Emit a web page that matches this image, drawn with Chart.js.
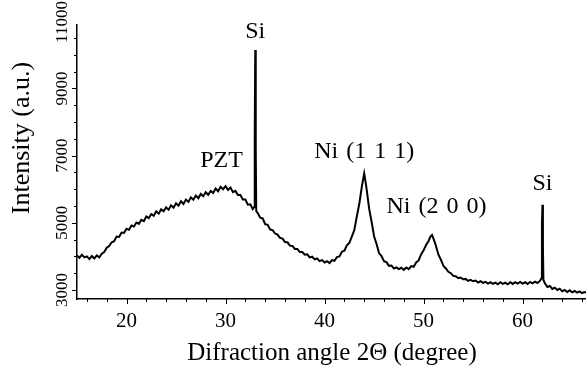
<!DOCTYPE html>
<html lang="en">
<head>
<meta charset="UTF-8">
<title>XRD pattern</title>
<script src="https://cdn.jsdelivr.net/npm/chart.js@4"></script>
<style>
  html, body { margin: 0; padding: 0; background: #fff; }
</style>
</head>
<body>
<canvas id="xrd" width="586" height="367"></canvas>
<script>
// 2-theta (deg) and intensity (a.u.)
const twoTheta = [
  15.00, 15.25, 15.50, 15.75, 16.00, 16.25, 16.50, 16.75, 17.00, 17.25, 17.50, 17.75,
  18.00, 18.25, 18.50, 18.75, 19.00, 19.25, 19.50, 19.75, 20.00, 20.25, 20.50, 20.75,
  21.00, 21.25, 21.50, 21.75, 22.00, 22.25, 22.50, 22.75, 23.00, 23.25, 23.50, 23.75,
  24.00, 24.25, 24.50, 24.75, 25.00, 25.25, 25.50, 25.75, 26.00, 26.25, 26.50, 26.75,
  27.00, 27.25, 27.50, 27.75, 28.00, 28.25, 28.50, 28.75, 29.00, 29.25, 29.50, 29.75,
  30.00, 30.25, 30.50, 30.75, 31.00, 31.25, 31.50, 31.75, 32.00, 32.25, 32.50, 32.75,
  32.90, 32.95, 33.00, 33.05, 33.10, 33.25, 33.50, 33.75,
  34.00, 34.25, 34.50, 34.75, 35.00, 35.25, 35.50, 35.75, 36.00, 36.25, 36.50, 36.75,
  37.00, 37.25, 37.50, 37.75, 38.00, 38.25, 38.50, 38.75, 39.00, 39.25, 39.50, 39.75,
  40.00, 40.25, 40.50, 40.75, 41.00, 41.25, 41.50, 41.75, 42.00, 42.25, 42.50, 42.75,
  43.00, 43.25, 43.50, 43.75, 44.00, 44.15, 44.30, 44.50, 44.75,
  45.00, 45.25, 45.50, 45.75, 46.00, 46.25, 46.50, 46.75, 47.00, 47.25, 47.50, 47.75,
  48.00, 48.25, 48.50, 48.75, 49.00, 49.25, 49.50, 49.75, 50.00, 50.25, 50.50, 50.70,
  50.85, 51.00, 51.20, 51.50, 51.75, 52.00, 52.25, 52.50, 52.75,
  53.00, 53.25, 53.50, 53.75, 54.00, 54.25, 54.50, 54.75, 55.00, 55.25, 55.50, 55.75,
  56.00, 56.25, 56.50, 56.75, 57.00, 57.25, 57.50, 57.75, 58.00, 58.25, 58.50, 58.75,
  59.00, 59.25, 59.50, 59.75, 60.00, 60.25, 60.50, 60.75, 61.00, 61.25, 61.50, 61.75,
  61.90, 61.95, 62.00, 62.05, 62.10, 62.25, 62.50, 62.75,
  63.00, 63.25, 63.50, 63.75, 64.00, 64.25, 64.50, 64.75, 65.00, 65.25, 65.50, 65.75,
  66.00, 66.25, 66.50
]
const intensity = [
  4030, 3960, 4050, 3970, 4000, 3920, 4010, 3940, 4030, 3970, 4080, 4130,
  4260, 4310, 4420, 4450, 4590, 4580, 4710, 4700, 4820, 4790, 4920, 4890,
  5010, 4970, 5090, 5050, 5190, 5140, 5260, 5210, 5340, 5270, 5400, 5340,
  5460, 5390, 5520, 5450, 5580, 5510, 5640, 5560, 5690, 5620, 5760, 5690,
  5810, 5730, 5860, 5790, 5910, 5830, 5950, 5890, 6020, 5940, 6070, 6000,
  6090, 5980, 6050, 5910, 5950, 5830, 5830, 5690, 5690, 5540, 5550, 5410,
  5470, 7650, 10140, 7250, 5350, 5290, 5150, 5130,
  4960, 4940, 4800, 4780, 4680, 4650, 4550, 4530, 4430, 4420, 4320, 4310,
  4220, 4220, 4130, 4130, 4050, 4060, 3970, 3990, 3910, 3940, 3860, 3890,
  3820, 3860, 3800, 3890, 3870, 3980, 4000, 4140, 4170, 4330, 4400, 4590,
  4780, 5180, 5550, 6050, 6470, 6200, 5880, 5420, 5030,
  4600, 4370, 4100, 4010, 3860, 3830, 3720, 3730, 3640, 3670, 3620, 3660,
  3600, 3670, 3620, 3710, 3690, 3820, 3880, 4060, 4180, 4340, 4460, 4600,
  4640, 4530, 4360, 4050, 3900, 3720, 3640, 3540, 3500,
  3420, 3410, 3350, 3370, 3320, 3330, 3270, 3300, 3260, 3280, 3220, 3260,
  3210, 3240, 3190, 3230, 3180, 3220, 3170, 3230, 3180, 3220, 3170, 3230,
  3180, 3230, 3190, 3240, 3190, 3230, 3180, 3240, 3200, 3250, 3210, 3270,
  3350, 4950, 5540, 4300, 3300, 3200, 3090, 3120,
  3030, 3070, 3000, 3040, 2960, 3000, 2940, 2990, 2930, 2970, 2920, 2960,
  2910, 2940, 2920
]

const xTicks = [20, 30, 40, 50, 60]
const yTicks = [3000, 5000, 7000, 9000, 11000]

const peakNames = ['PZT', 'Si', 'Ni (1 1 1)', 'Ni (2 0 0)', 'Si']
const peakAngles = [29.6, 33.0, 44.0, 51.3, 62.0]
const peakLevels = [6850, 10700, 7120, 5490, 6170]

const serif = "'Liberation Serif', 'Times New Roman', serif"

const decor = {
  id: 'decor',
  afterDraw(chart) {
    const { ctx, chartArea: a, scales: { x, y } } = chart
    ctx.save()
    ctx.strokeStyle = '#000'
    ctx.fillStyle = '#000'
    ctx.lineWidth = 1

    // x ticks (major every 10, minor every 2)
    for (let v = 16; v <= 66; v += 2) {
      const px = Math.round(x.getPixelForValue(v)) + 0.5
      const len = v % 10 === 0 ? 5 : 3
      ctx.beginPath(); ctx.moveTo(px, a.bottom); ctx.lineTo(px, a.bottom + len); ctx.stroke()
    }
    // y ticks (major every 2000, minor every 500)
    for (let v = 3000; v <= 10500; v += 500) {
      const py = Math.round(y.getPixelForValue(v)) + 0.5
      const len = v % 2000 === 1000 ? 5 : 3
      ctx.beginPath(); ctx.moveTo(a.left, py); ctx.lineTo(a.left - len, py); ctx.stroke()
    }

    // tick labels
    ctx.font = '21px ' + serif
    ctx.textAlign = 'center'
    ctx.textBaseline = 'middle'
    xTicks.forEach(v => ctx.fillText(String(v), x.getPixelForValue(v), 321))
    ctx.font = '17px ' + serif
    yTicks.forEach(v => {
      ctx.save()
      ctx.translate(63, Math.max(y.getPixelForValue(v), 22))
      ctx.rotate(-Math.PI / 2)
      ctx.fillText(String(v), 0, 0)
      ctx.restore()
    })

    // axis titles
    ctx.font = '25px ' + serif
    ctx.fillText('Difraction angle 2\u0398 (degree)', 332, 353)
    ctx.font = '26px ' + serif
    ctx.save()
    ctx.translate(22, 138)
    ctx.rotate(-Math.PI / 2)
    ctx.fillText('Intensity (a.u.)', 0, 0)
    ctx.restore()

    // peak labels
    ctx.font = '24px ' + serif
    ctx.wordSpacing = '2px'
    peakNames.forEach((t, i) => {
      ctx.fillText(t, x.getPixelForValue(peakAngles[i]), y.getPixelForValue(peakLevels[i]))
    })
    ctx.restore()
  }
}

new Chart(document.getElementById('xrd'), {
  type: 'scatter',
  data: {
    datasets: [{
      data: twoTheta.map((t, i) => ({ x: t, y: intensity[i] })),
      showLine: true,
      borderColor: '#000',
      borderWidth: 2,
      pointRadius: 0,
      tension: 0
    }]
  },
  options: {
    responsive: false,
    animation: false,
    devicePixelRatio: 1,
    layout: { padding: { top: 25, right: 0, left: 0, bottom: 0 } },
    plugins: { legend: { display: false }, tooltip: { enabled: false } },
    scales: {
      x: {
        type: 'linear', min: 15, max: 66.4,
        grid: { display: false },
        border: { display: true, color: '#000', width: 1.5 },
        ticks: { display: false },
        afterFit: s => { s.height = 68 }
      },
      y: {
        type: 'linear', min: 2732, max: 10887,
        grid: { display: false },
        border: { display: true, color: '#000', width: 1.5 },
        ticks: { display: false },
        afterFit: s => { s.width = 77 }
      }
    }
  },
  plugins: [decor]
})
</script>
</body>
</html>
